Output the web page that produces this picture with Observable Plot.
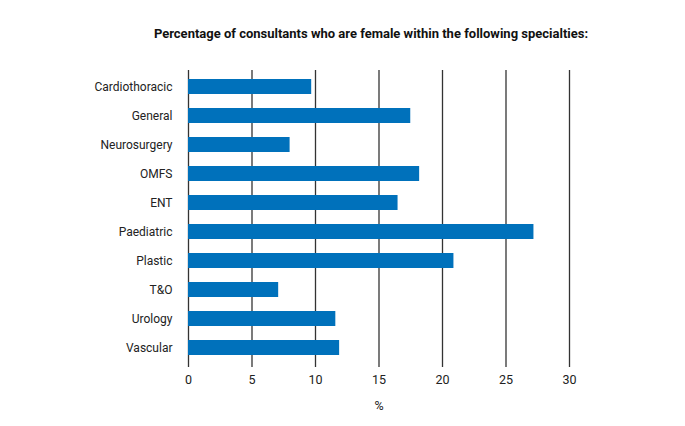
<!DOCTYPE html>
<html>
<head>
<meta charset="utf-8">
<script src="https://cdn.jsdelivr.net/npm/d3@7"></script>
<script src="https://cdn.jsdelivr.net/npm/@observablehq/plot@0.6"></script>
<style>
  body { margin: 0; background: #fff; }
  #wrap { position: relative; width: 685px; height: 426px; font-family: Roboto, "Noto Sans", sans-serif; }
  #title { position: absolute; z-index: 2; top: 26px; left: 0; width: 742px; text-align: center; font-weight: bold; font-size: 13px; color: #111; }
  #chart { position: absolute; z-index: 1; top: 0; left: 0; }
</style>
</head>
<body>
<div id="wrap">
  <div id="title">Percentage of consultants who are female within the following specialties:</div>
  <div id="chart"></div>
</div>
<script>
const specialties = ["Cardiothoracic", "General", "Neurosurgery", "OMFS", "ENT", "Paediatric", "Plastic", "T&O", "Urology", "Vascular"];
const percentages = [9.7, 17.5, 8.0, 18.2, 16.5, 27.2, 20.9, 7.1, 11.6, 11.9];
const xTicks = [0, 5, 10, 15, 20, 25, 30];
const axisLabel = "%";

const data = specialties.map((s, i) => ({specialty: s, value: percentages[i]}));

const plot = Plot.plot({
  width: 685,
  height: 426,
  marginLeft: 188,
  marginRight: 116,
  marginTop: 70,
  marginBottom: 63,
  style: {fontFamily: "Roboto, 'Noto Sans', sans-serif", fontSize: "12px", color: "#222", background: "transparent"},
  x: {domain: [0, 30]},
  y: {domain: specialties, paddingInner: 0.5, paddingOuter: 0.25},
  marks: [
    Plot.ruleX(xTicks, {stroke: "#333", strokeWidth: 1.3}),
    Plot.barX(data, {x: "value", y: "specialty", fill: "#0071bb"}),
    Plot.axisX({ticks: xTicks, tickSize: 4, tickPadding: 8, stroke: "#333", strokeWidth: 1.3, fontSize: 12.5, label: axisLabel, labelAnchor: "center", labelArrow: "none", labelOffset: 46}),
    Plot.axisY({tickSize: 0, tickPadding: 16, fontSize: 12, label: null})
  ]
});
document.getElementById("chart").appendChild(plot);
</script>
</body>
</html>
